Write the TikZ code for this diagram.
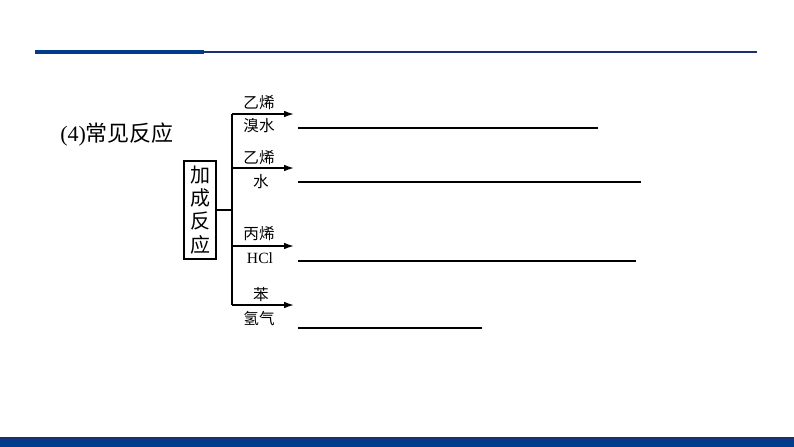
\documentclass[tikz,border=0pt]{standalone}
\usepackage{fontspec}
\setmainfont{Liberation Serif}
\newfontfamily\cjk{Noto Sans CJK SC}
\usetikzlibrary{arrows.meta}
\definecolor{navy}{HTML}{003C8A}
\definecolor{navydark}{HTML}{1C2F6E}
\tikzset{
  branch/.style={line width=1.1pt,-{Latex[length=7.5pt,width=5pt]}},
  answer/.style={line width=1.5pt},
  lbl/.style={font=\fontsize{11.7}{12}\selectfont\cjk,inner sep=0pt},
  boxnode/.style={draw,line width=1.1pt,minimum width=24pt,minimum height=73.5pt,inner sep=0pt,align=center,font=\fontsize{15}{17.3}\selectfont\cjk}
}
\begin{document}
\begin{tikzpicture}[x=0.75pt,y=-0.75pt]
\useasboundingbox (0,0) rectangle (794,447);
% header rule
\fill[navy] (35,50) rectangle (204,54);
\draw[navydark,line width=1.3pt] (204,52) -- (757,52);
% footer bar
\fill[navy] (0,437.5) rectangle (794,447);
\draw[navydark,line width=1pt] (0,438) -- (794,438);
% title
\node[anchor=west,inner sep=0pt,font=\fontsize{16.5}{18}\selectfont] (title) at (60,135) {(4){\cjk 常见反应}};
% box
\node[boxnode] (box) at (200,210) {加\\成\\反\\应};
\coordinate (j) at (232,210);
\coordinate (t1) at (232,114);
\coordinate (t2) at (232,168);
\coordinate (t3) at (232,246);
\coordinate (t4) at (232,305);
\coordinate (e1) at (294,114);
\coordinate (e2) at (294,168);
\coordinate (e3) at (294,246);
\coordinate (e4) at (294,305);
\draw[line width=1.1pt] (box.east) -- (j);
\draw[line width=1.1pt] (t1) -- (t4);
\draw[branch] (t1) -- (e1);
\draw[branch] (t2) -- (e2);
\draw[branch] (t3) -- (e3);
\draw[branch] (t4) -- (e4);
% labels
\node[lbl] (a1) at (259,103) {乙烯};
\node[lbl] (b1) at (259,125.5) {溴水};
\node[lbl] (a2) at (259,158) {乙烯};
\node[lbl] (b2) at (261,182) {水};
\node[lbl] (a3) at (259,234) {丙烯};
\node[lbl,font=\fontsize{11.7}{12}\selectfont] (b3) at (260,258.5) {HCl};
\node[lbl] (a4) at (261,295) {苯};
\node[lbl] (b4) at (259,318.5) {氢气};
% answer lines
\coordinate (s1) at (298,127.5); \coordinate (f1) at (598,127.5);
\coordinate (s2) at (298,181.5); \coordinate (f2) at (641,181.5);
\coordinate (s3) at (298,261); \coordinate (f3) at (636,261);
\coordinate (s4) at (298,327.5); \coordinate (f4) at (482,327.5);
\draw[answer] (s1) -- (f1);
\draw[answer] (s2) -- (f2);
\draw[answer] (s3) -- (f3);
\draw[answer] (s4) -- (f4);
\end{tikzpicture}
\end{document}
